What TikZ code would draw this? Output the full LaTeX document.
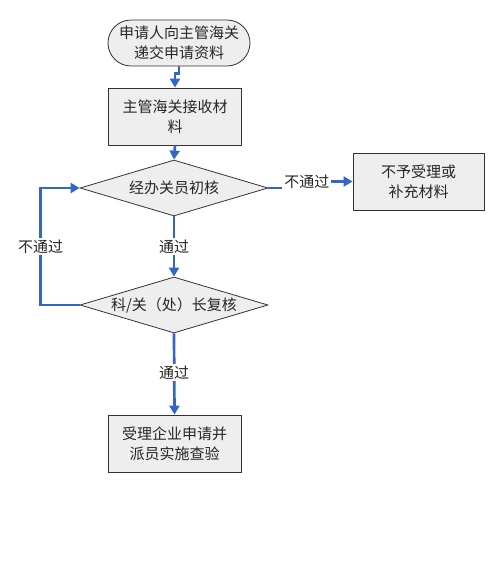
\documentclass[tikz,border=0pt]{standalone}
\usepackage{fontspec}
\setmainfont{Noto Sans CJK SC}
\usepackage{xcolor}
\usetikzlibrary{arrows.meta}
\usetikzlibrary{shapes.geometric}
\usetikzlibrary{positioning}
\definecolor{flowblue}{RGB}{51,102,204}
\definecolor{boxgray}{RGB}{238,238,238}
\tikzset{
  stepbox/.style={draw=black!80, fill=boxgray, line width=0.8pt, align=center,
    minimum width=133pt, minimum height=57pt, inner sep=2pt},
  startbox/.style={stepbox, rounded corners=23pt, minimum width=142pt, minimum height=46pt},
  checkbox/.style={diamond, draw=black!80, fill=boxgray, line width=0.8pt, aspect=3.36,
    minimum width=188pt, minimum height=56pt, inner sep=0pt},
  flow/.style={draw=flowblue, line width=2.7pt, -{Triangle[width=10pt,length=9pt]}},
  flowlabel/.style={fill=white, inner sep=2pt}
}

\begin{document}
\begin{tikzpicture}[x=1pt, y=-1pt, font=\fontsize{15}{20}\selectfont, text=black!85]
    \useasboundingbox (0,0) rectangle (488,563);
    \node[startbox] (apply) at (179,43) {申请人向主管海关\\递交申请资料};
    \node[stepbox] (receive) at (175,116.5) {主管海关接收材\\料};
    \node[checkbox] (first) at (174,188) {经办关员初核};
    \node[stepbox, minimum width=131pt] (reject) at (418.5,181.5) {不予受理或\\补充材料};
    \node[checkbox] (second) at (174,305) {科/关（处）长复核};
    \node[stepbox] (accept) at (174.5,443.5) {受理企业申请并\\派员实施查验};

    \draw[flow] (apply.south) -- ++(0,7) -| (receive.north);
    \draw[flow] (receive.south) -- (first.north);
    \draw[flow] (first.east) -- ++(15,0) |- node[flowlabel, pos=0.67] {不通过} (reject.west);
    \draw[flow] (first.south) -- node[flowlabel] {通过} (second.north);
    \draw[flow] (second.west) -- ++(-39,0) |- node[flowlabel, pos=0.25] {不通过} (first.west);
    \draw[flow] (second.south) -- node[flowlabel, pos=0.48] {通过} (accept.north);
\end{tikzpicture}
\end{document}
